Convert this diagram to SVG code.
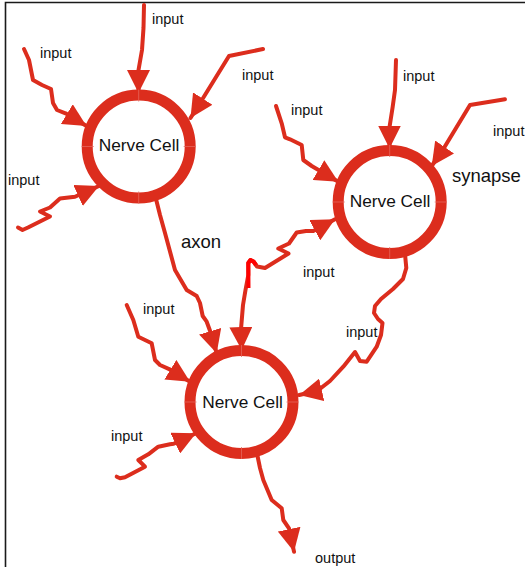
<svg xmlns="http://www.w3.org/2000/svg" width="525" height="567" viewBox="0 0 525 567">
<style>
.ring{fill:#fff;stroke:#dc2d1d;stroke-width:11}
.seam{stroke:#e4645a;stroke-width:0.8;fill:none}
.cell{font-family:"Liberation Sans",Arial,sans-serif;font-size:17.3px;fill:#111;text-anchor:middle}
.lbl{font-family:"Liberation Sans",Arial,sans-serif;font-size:14.5px;fill:#111}
.big{font-family:"Liberation Sans",Arial,sans-serif;font-size:18.5px;fill:#111}
.wire{fill:none;stroke:#dc2d1d;stroke-width:4;stroke-linejoin:round;stroke-linecap:round;marker-end:url(#ah)}
</style>
<defs>
<marker id="ah" markerUnits="userSpaceOnUse" viewBox="0 0 23 23" markerWidth="23" markerHeight="23" refX="23" refY="11.5" orient="auto-start-reverse">
<path d="M0,0 L23,11.5 L0,23 Z" fill="#dc2d1d"/>
</marker>
</defs>
<rect width="525" height="567" fill="#fff"/>
<path d="M5.5,567 V2.5 H525" fill="none" stroke="#1a1a1a" stroke-width="1.6"/>

<g id="connectors">
<!-- node 1 inputs -->
<path class="wire" d="M144,5 L143.5,28 L142,50 L138.5,70 L138.5,93"/>
<path class="wire" d="M24,49 L29,60 L33,80 L42,85 L51,89 L53,103 L57,110 L65.5,113.3 L86.5,126"/>
<path class="wire" d="M263,49 L229,56 L202.5,99 L190.5,118"/>
<path class="wire" d="M18,227.5 L22.5,230 L28,227.5 L50,216.5 L40,211.5 L50,207.5 L60,198.5 L75,196.8 L99,186"/>
<!-- axon node1 -> node3 -->
<path class="wire" d="M155.5,197 L160,215 L165,233 L175,270 L186.7,290 L196.7,296 L200,303 L202.7,316 L206.7,321.7 L210,330.8 L216.7,353.3"/>
<!-- node 2 inputs -->
<path class="wire" d="M396,60 L395,90 L392.7,106.7 L389.5,127.3 L389.5,148.5"/>
<path class="wire" d="M505,99.3 L470,105 L443.8,148.3 L431.7,166"/>
<path class="wire" d="M276,106 L281.7,123.3 L285,137.3 L290,139.3 L301.7,145 L303.3,160 L311.7,166 L317.2,169.3 L338.3,181.7"/>
<!-- shared input between node3 and node2 -->
<path class="wire" style="marker-start:url(#ah)" d="M241.7,350 L241,329 L243,305 L245.5,290 L248.3,275 L248.3,263 L250.5,260 L253.5,261.5 L257,266.5 L265,268 L288.5,253.5 L278.3,248.5 L289,243.5 L296.7,232.5 L306,231 L313.3,231 L335,219.3"/>
<path d="M248.5,288 L248.3,263 L250.5,260 L253.5,261.5 L256,265" fill="none" stroke="#ff0000" stroke-width="4" stroke-linejoin="round"/>
<!-- node2 -> node3 -->
<path class="wire" d="M405,254 L406.3,268 L403,279 L393,289 L381,299 L375,306 L374,313 L378,319 L382.5,323 L381,335 L376.7,346.7 L366.7,361.7 L360,361 L355,352 L343.3,366.7 L330,381 L317.5,390.8 L299.3,395"/>
<!-- node 3 inputs -->
<path class="wire" d="M126.7,305 L133.3,320 L138.3,336.7 L151.7,343.3 L155,360 L160,365 L169.7,369.3 L190,381.7"/>
<path class="wire" d="M116.7,476.7 L120,478.3 L125,477.3 L145,466.7 L138.3,460 L148.3,454.3 L158.3,446.7 L170,444.3 L173.7,443.8 L196,433.3"/>
<!-- output -->
<path class="wire" d="M256.7,452 L260,468 L263.3,480 L271.7,500 L281.7,508.3 L283.3,520 L289,528.3 L294,551.7"/>
</g>

<g id="node1">
<circle class="ring" cx="138.7" cy="146.5" r="51.5"/>
<path class="seam" d="M138.7,89.5 V101.5 M138.7,191.5 V203.5 M81.7,146.5 H93.7 M183.7,146.5 H195.7"/>
<text class="cell" x="139" y="151">Nerve Cell</text>
</g>
<g id="node2">
<circle class="ring" cx="389.7" cy="202" r="51.5"/>
<path class="seam" d="M389.7,145 V157 M389.7,247 V259 M332.7,202 H344.7 M434.7,202 H446.7"/>
<text class="cell" x="390" y="207">Nerve Cell</text>
</g>
<g id="node3">
<circle class="ring" cx="241.5" cy="402" r="51.5"/>
<path class="seam" d="M241.5,345 V357 M241.5,447 V459 M184.5,402 H196.5 M286.5,402 H298.5"/>
<text class="cell" x="242.5" y="407.5">Nerve Cell</text>
</g>

<g id="labels">
<text class="lbl" x="152" y="24">input</text>
<text class="lbl" x="40" y="58">input</text>
<text class="lbl" x="242" y="80">input</text>
<text class="lbl" x="8" y="185">input</text>
<text class="big" x="181" y="247.5">axon</text>
<text class="lbl" x="403" y="81">input</text>
<text class="lbl" x="291" y="115">input</text>
<text class="lbl" x="493" y="136">input</text>
<text class="big" x="452" y="182">synapse</text>
<text class="lbl" x="303" y="276.5">input</text>
<text class="lbl" x="143" y="314">input</text>
<text class="lbl" x="346" y="337">input</text>
<text class="lbl" x="111" y="441">input</text>
<text class="lbl" x="315" y="563">output</text>
</g>
</svg>
